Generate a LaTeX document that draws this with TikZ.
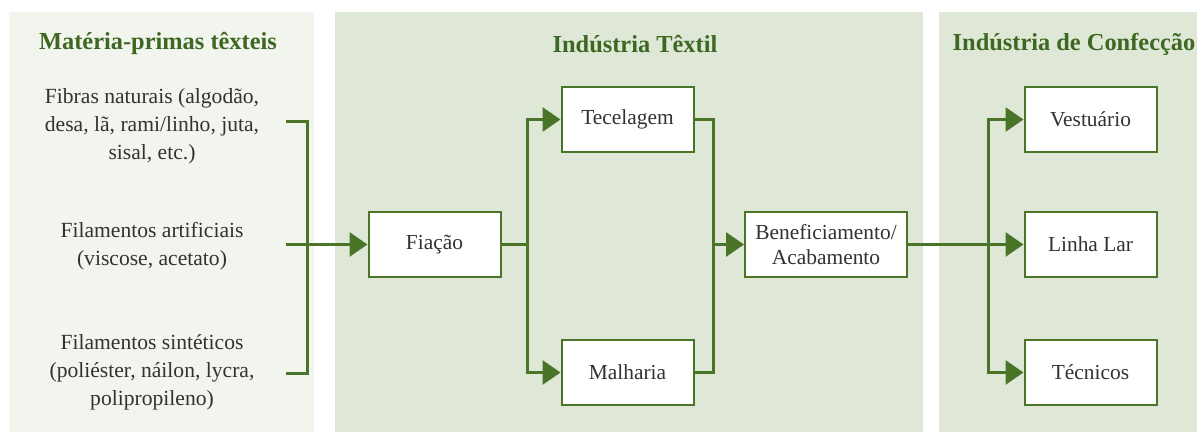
\documentclass[tikz,border=0pt]{standalone}
\usepackage{fontspec}
\setmainfont{Liberation Serif}
\newfontfamily\serifa{Liberation Serif}
\usepackage{tikz}
\usetikzlibrary{arrows.meta,positioning}
\definecolor{verde}{RGB}{74,116,40}
\definecolor{verdetit}{RGB}{62,104,34}
\definecolor{texto}{RGB}{50,50,50}
\definecolor{painelA}{RGB}{242,245,238}
\definecolor{painelB}{RGB}{223,232,215}
\tikzset{
  caixa/.style={draw=verde, line width=1pt, fill=white, text=texto, align=center,
    minimum width=66pt, minimum height=32.5pt, inner sep=0pt, font=\serifa\fontsize{10.7}{12.5}\selectfont},
  titulo/.style={text=verdetit, font=\serifa\fontsize{12.2}{14}\selectfont\bfseries},
  materia/.style={text=texto, align=center, font=\serifa\fontsize{10.8}{14}\selectfont},
  linha/.style={draw=verde, line width=1.5pt},
  seta/.style={linha, -{Triangle[length=9pt,width=12pt]}}
}

\begin{document}
\begin{tikzpicture}[x=0.5pt,y=-0.5pt]
\useasboundingbox (0,0) rectangle (1197,432);
% paineis
\fill[painelA] (9,12) rectangle (314,432);
\fill[painelB] (335,12) rectangle (923,432);
\fill[painelB] (939,12) rectangle (1197,432);
\node[titulo] (tmat) at (158,44) {Matéria-primas têxteis};
\node[titulo] (ttex) at (635,44) {Indústria Têxtil};
\node[titulo] (tcon) at (1074,44) {Indústria de Confecção};
% materias-primas
\node[materia] (fib) at (152,126) {Fibras naturais (algodão,\\desa, lã, rami/linho, juta,\\sisal, etc.)};
\node[materia] (art) at (152,246) {Filamentos artificiais\\(viscose, acetato)};
\node[materia] (sin) at (152,372) {Filamentos sintéticos\\(poliéster, náilon, lycra,\\polipropileno)};
% caixas
\node[caixa] (fia) at (434.5,244.5) {Fiação};
\node[caixa] (tec) at (627.5,119.5) {Tecelagem};
\node[caixa] (mal) at (627.5,372.5) {Malharia};
\node[caixa, minimum width=81pt] (ben) at (826,244.5) {Beneficiamento/\\Acabamento};
\node[caixa] (ves) at (1090.5,119.5) {Vestuário};
\node[caixa] (lar) at (1090.5,244.5) {Linha Lar};
\node[caixa] (tcn) at (1090.5,372.5) {Técnicos};
% chave
\coordinate (b1) at (286,122);
\coordinate (bt) at (307,122);
\coordinate (bb) at (307,373);
\coordinate (b3) at (286,373);
\coordinate (bm) at (286,244.5);
\draw[linha] (b1) -- (bt) -- (bb) -- (b3);
\draw[seta] (bm) -- (fia);
% ligacoes
\coordinate (j1) at (527,244.5);
\coordinate (j2) at (713,244.5);
\coordinate (j3) at (988,244.5);
\draw[linha] (fia) -- (j1);
\draw[seta] (j1) |- (tec);
\draw[seta] (j1) |- (mal);
\draw[linha] (tec) -| (j2);
\draw[linha] (mal) -| (j2);
\draw[seta] (j2) -- (ben);
\draw[linha] (ben) -- (j3);
\draw[seta] (j3) |- (ves);
\draw[seta] (j3) -- (lar);
\draw[seta] (j3) |- (tcn);
\end{tikzpicture}
\end{document}
